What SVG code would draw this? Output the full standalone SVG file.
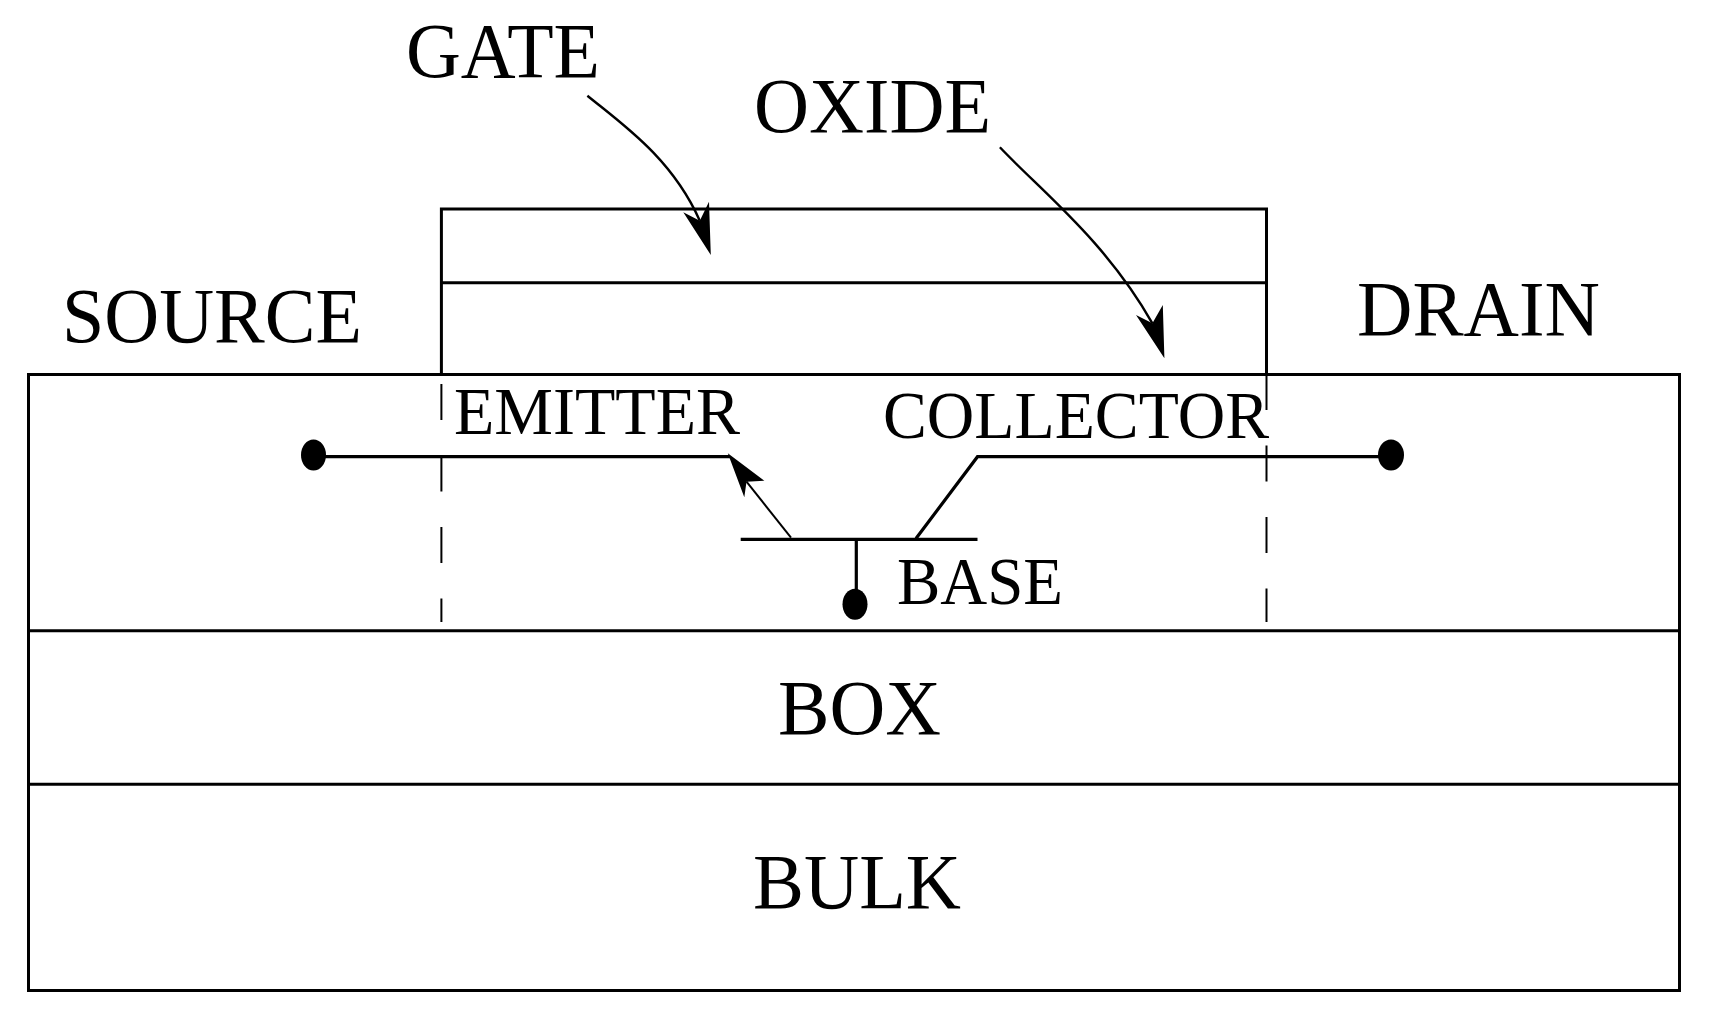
<svg xmlns="http://www.w3.org/2000/svg" width="1712" height="1017" viewBox="0 0 1712 1017">
<style>
text{font-family:"Liberation Serif","Times New Roman",serif;fill:#000}
.big{font-size:78px}
.mid{font-size:67px}
.box{fill:none;stroke:#000;stroke-width:3}
.ln{fill:none;stroke:#000;stroke-width:3.2}
.thin{fill:none;stroke:#000;stroke-width:2}
.cv{fill:none;stroke:#000;stroke-width:2.4}
.dash{fill:none;stroke:#000;stroke-width:2;stroke-dasharray:36 35.5}
.dot{fill:#000}
.head{fill:#000}
</style>
<rect width="1712" height="1017" fill="#fff"/>
<g id="substrate">
<rect class="box" x="28.5" y="374.5" width="1651" height="616"/>
<line class="box" x1="28.5" y1="630.7" x2="1679.5" y2="630.7"/>
<line class="box" x1="28.5" y1="784.3" x2="1679.5" y2="784.3"/>
</g>
<g id="gate-stack">
<path class="box" d="M441.4 374V209H1266.5V374"/>
<line class="box" x1="441.4" y1="282.7" x2="1266.5" y2="282.7"/>
</g>
<g id="label-gate"><text class="big" x="406" y="77" textLength="194" lengthAdjust="spacingAndGlyphs">GATE</text></g>
<g id="label-oxide"><text class="big" x="754" y="131.7" textLength="237" lengthAdjust="spacingAndGlyphs">OXIDE</text></g>
<g id="label-source"><text class="big" x="62" y="342" textLength="300" lengthAdjust="spacingAndGlyphs">SOURCE</text></g>
<g id="label-drain"><text class="big" x="1357" y="335" textLength="243" lengthAdjust="spacingAndGlyphs">DRAIN</text></g>
<g id="label-emitter"><text class="mid" x="454" y="434" textLength="286" lengthAdjust="spacingAndGlyphs">EMITTER</text></g>
<g id="label-collector"><text class="mid" x="883" y="438" textLength="386" lengthAdjust="spacingAndGlyphs">COLLECTOR</text></g>
<g id="label-base"><text class="mid" x="897" y="604" textLength="166" lengthAdjust="spacingAndGlyphs">BASE</text></g>
<g id="label-box"><text class="big" x="778" y="734" textLength="163" lengthAdjust="spacingAndGlyphs">BOX</text></g>
<g id="label-bulk"><text class="big" x="753" y="908" textLength="208" lengthAdjust="spacingAndGlyphs">BULK</text></g>
<g id="terminal-source"><ellipse class="dot" cx="313.5" cy="455" rx="12.5" ry="15.5"/></g>
<g id="terminal-drain"><ellipse class="dot" cx="1391" cy="455" rx="13" ry="15.5"/></g>
<g id="terminal-base"><ellipse class="dot" cx="855" cy="604.3" rx="12.5" ry="15.5"/></g>
<g id="connectors">
<path class="dash" d="M441.4 384V622"/>
<path class="dash" d="M1266.5 374V622"/>
<path class="ln" d="M322 456.7H730"/>
<path class="thin" d="M791 537.7L746.5 481.7"/>
<polygon class="head" points="727.8,453.3 764.4,480.7 746.5,481.7 744.3,497.3"/>
<path class="ln" d="M740.7 539.3H977.5"/>
<path class="ln" d="M856.3 539V595"/>
<path class="ln" d="M916 538.5L977.5 456.7H1380"/>
<path class="cv" d="M587.4 95.7C622 124 672 158 699.8 220.7"/>
<polygon class="head" points="710.8,255 709,201.7 699.8,220.7 683.3,212.3"/>
<path class="cv" d="M999.9 147.3C1040 190 1105 240 1152.4 323.3"/>
<polygon class="head" points="1164.4,358.3 1162.8,305 1152.4,323.3 1136,315"/>
</g>
</svg>
